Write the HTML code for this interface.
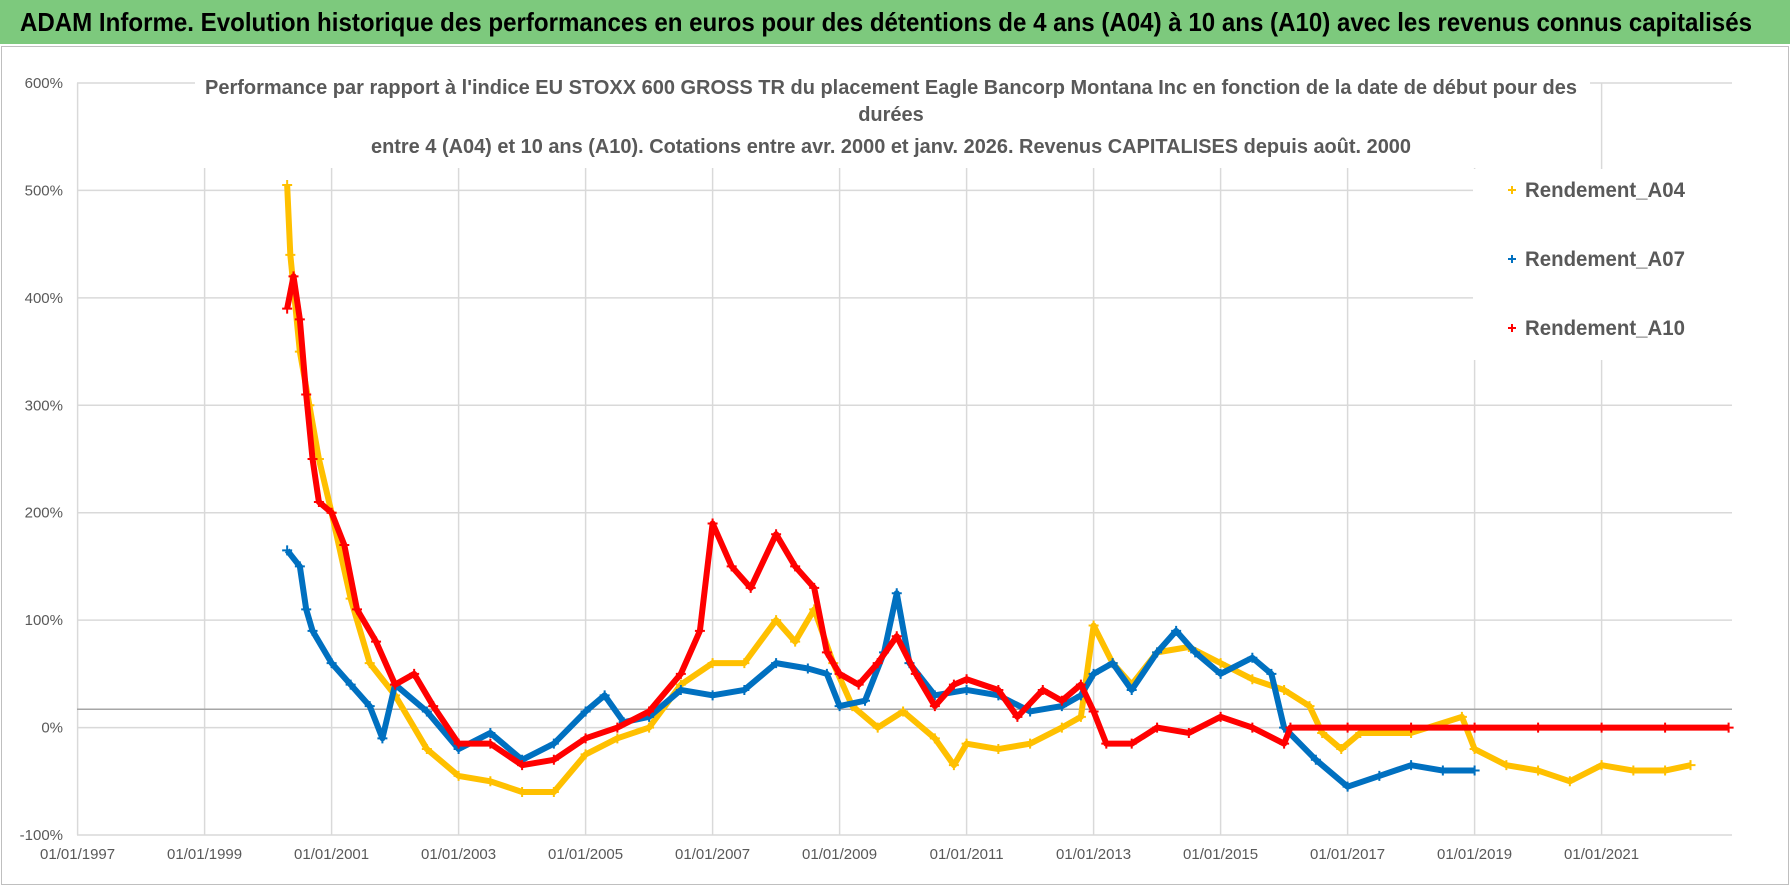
<!DOCTYPE html>
<html><head><meta charset="utf-8"><style>
html,body{margin:0;padding:0;background:#fff;}
body{width:1790px;height:886px;overflow:hidden;position:relative;font-family:"Liberation Sans Narrow","Liberation Sans",sans-serif;}
#hdr{position:absolute;left:0;top:0;width:1790px;height:44px;background:#7dc97d;}
#hdr span{position:absolute;left:20px;top:7px;font-size:26px;font-weight:bold;color:#000;white-space:nowrap;transform-origin:0 0;}
#frame{position:absolute;left:1px;top:46px;width:1786px;height:837px;border:1px solid #bfbfbf;}
svg text{font-family:"Liberation Sans Narrow","Liberation Sans",sans-serif;}
</style></head><body>
<div id="hdr"><span id="ht">ADAM Informe. Evolution historique des performances en euros pour des détentions de 4 ans (A04) à 10 ans (A10) avec les revenus connus capitalisés</span></div>
<div id="frame"></div>
<svg id="chart" width="1790" height="886" style="position:absolute;left:0;top:0"></svg>
<script>
const yTicks=[600,500,400,300,200,100,0,-100];
const yTickLabels=["600%","500%","400%","300%","200%","100%","0%","-100%"];
const xTicks=[1997,1999,2001,2003,2005,2007,2009,2011,2013,2015,2017,2019,2021];
const xTickLabels=["01/01/1997","01/01/1999","01/01/2001","01/01/2003","01/01/2005","01/01/2007","01/01/2009","01/01/2011","01/01/2013","01/01/2015","01/01/2017","01/01/2019","01/01/2021"];
const a04T=[2000.3,2000.35,2000.5,2000.65,2000.8,2001.0,2001.3,2001.6,2002.0,2002.5,2003.0,2003.5,2004.0,2004.5,2005.0,2005.5,2006.0,2006.5,2007.0,2007.5,2008.0,2008.3,2008.6,2008.9,2009.2,2009.6,2010.0,2010.5,2010.8,2011.0,2011.5,2012.0,2012.5,2012.8,2013.0,2013.3,2013.6,2014.0,2014.5,2015.0,2015.5,2016.0,2016.4,2016.6,2016.9,2017.2,2018.0,2018.8,2019.0,2019.5,2020.0,2020.5,2021.0,2021.5,2022.0,2022.4];
const a04V=[505,440,350,300,250,200,120,60,30,-20,-45,-50,-60,-60,-25,-10,0,40,60,60,100,80,110,60,20,0,15,-10,-35,-15,-20,-15,0,10,95,60,40,70,75,60,45,35,20,-5,-20,-5,-5,10,-20,-35,-40,-50,-35,-40,-40,-35];
const a07T=[2000.3,2000.5,2000.6,2000.7,2001.0,2001.3,2001.6,2001.8,2002.0,2002.5,2003.0,2003.5,2004.0,2004.5,2005.0,2005.3,2005.6,2006.0,2006.5,2007.0,2007.5,2008.0,2008.5,2008.8,2009.0,2009.4,2009.7,2009.9,2010.1,2010.5,2011.0,2011.5,2012.0,2012.5,2012.8,2013.0,2013.3,2013.6,2014.0,2014.3,2014.6,2015.0,2015.5,2015.8,2016.0,2016.5,2017.0,2017.5,2018.0,2018.5,2019.0];
const a07V=[165,150,110,90,60,40,20,-10,40,15,-20,-5,-30,-15,15,30,5,10,35,30,35,60,55,50,20,25,70,125,60,30,35,30,15,20,30,50,60,35,70,90,70,50,65,50,0,-30,-55,-45,-35,-40,-40];
const a10T=[2000.3,2000.4,2000.5,2000.6,2000.7,2000.8,2001.0,2001.2,2001.4,2001.7,2002.0,2002.3,2002.6,2003.0,2003.5,2004.0,2004.5,2005.0,2005.5,2006.0,2006.5,2006.8,2007.0,2007.3,2007.6,2008.0,2008.3,2008.6,2008.8,2009.0,2009.3,2009.6,2009.9,2010.2,2010.5,2010.8,2011.0,2011.5,2011.8,2012.2,2012.5,2012.8,2013.0,2013.2,2013.6,2014.0,2014.5,2015.0,2015.5,2016.0,2016.1,2017.0,2018.0,2019.0,2020.0,2021.0,2022.0,2023.0];
const a10V=[390,420,380,310,250,210,200,170,110,80,40,50,20,-15,-15,-35,-30,-10,0,15,50,90,190,150,130,180,150,130,70,50,40,60,85,50,20,40,45,35,10,35,25,40,15,-15,-15,0,-5,10,0,-15,0,0,0,0,0,0,0,0];

const ht=document.getElementById('ht');
ht.style.transform='scaleX('+(1732/ht.getBoundingClientRect().width)+')';

const NS="http://www.w3.org/2000/svg";
const svg=document.getElementById('chart');
const X=t=>77.6+(t-1997)*63.5;
const Y=v=>83+(600-v)*752/700;
function mk(tag,at,parent){const e=document.createElementNS(NS,tag);for(const k in at)e.setAttribute(k,at[k]);(parent||svg).appendChild(e);return e;}
function fit(t,w){const b=t.getBBox().width;if(b>w){t.setAttribute('textLength',w);t.setAttribute('lengthAdjust','spacingAndGlyphs');}}
yTicks.forEach((v,i)=>{
  const l=mk('line',{x1:77,x2:1732,y1:Y(v),y2:Y(v),stroke:'#d9d9d9','stroke-width':1.5});
  
  
  const t=mk('text',{x:63,y:Y(v)+5,'text-anchor':'end','font-size':15,fill:'#595959'});
  t.textContent=yTickLabels[i];
  
  
});
xTicks.forEach((v,i)=>{
  const l=mk('line',{x1:X(v),x2:X(v),y1:Y(600),y2:Y(-100),stroke:'#d9d9d9','stroke-width':1.5});
  
  
  const t=mk('text',{x:X(v),y:Y(-100)+24,'text-anchor':'middle','font-size':15,fill:'#595959'});
  t.textContent=xTickLabels[i];
  
  
});
const ax=mk('line',{x1:77,x2:1732,y1:Y(17),y2:Y(17),stroke:'#a6a6a6','stroke-width':1.5});


const tb=mk('rect',{x:195,y:68,width:1395,height:100,fill:'#fff'});


const titles=[["Performance par rapport à l'indice EU STOXX 600 GROSS TR  du placement Eagle Bancorp Montana Inc en fonction de la date de début pour des",94,1372],["durées",121,0],["entre 4 (A04) et 10 ans (A10). Cotations entre avr. 2000 et janv. 2026. Revenus CAPITALISES depuis août. 2000",153,1040]];
titles.forEach(([s,y,w])=>{const t=mk('text',{x:891,y:y,'text-anchor':'middle','font-size':20,'font-weight':'bold',fill:'#595959'});t.textContent=s;
  
  
  if(w){t.setAttribute('textLength',w);t.setAttribute('lengthAdjust','spacingAndGlyphs');}});
function series(T,V,color,name){
  const g=mk('g',{});
  
  
  mk('polyline',{points:T.map((t,i)=>X(t)+','+Y(V[i])).join(' '),fill:'none',stroke:color,'stroke-width':6,'stroke-linejoin':'round'},g);
  T.forEach((t,i)=>{const x=X(t),y=Y(V[i]);
    const p=mk('path',{d:`M${x-5},${y}H${x+5}M${x},${y-5}V${y+5}`,stroke:color,'stroke-width':2},g);
    
    });
}
series(a04T,a04V,'#FFC000','series-a04');
series(a07T,a07V,'#0070C0','series-a07');
series(a10T,a10V,'#FF0000','series-a10');
const lg=mk('g',{});


mk('rect',{x:1473,y:169,width:262,height:191,fill:'#fff'},lg);
[['Rendement_A04','#FFC000',190],['Rendement_A07','#0070C0',259],['Rendement_A10','#FF0000',328]].forEach(([s,c,y])=>{
  const e=mk('g',{},lg);
  
  
  mk('path',{d:`M1508,${y}H1516M1512,${y-4}V${y+4}`,stroke:c,'stroke-width':2},e);
  const t=mk('text',{x:1525,y:y+7,'font-size':21,'font-weight':'bold',fill:'#595959',textLength:160,lengthAdjust:'spacingAndGlyphs'},e);t.textContent=s;
});
</script>
</body></html>
